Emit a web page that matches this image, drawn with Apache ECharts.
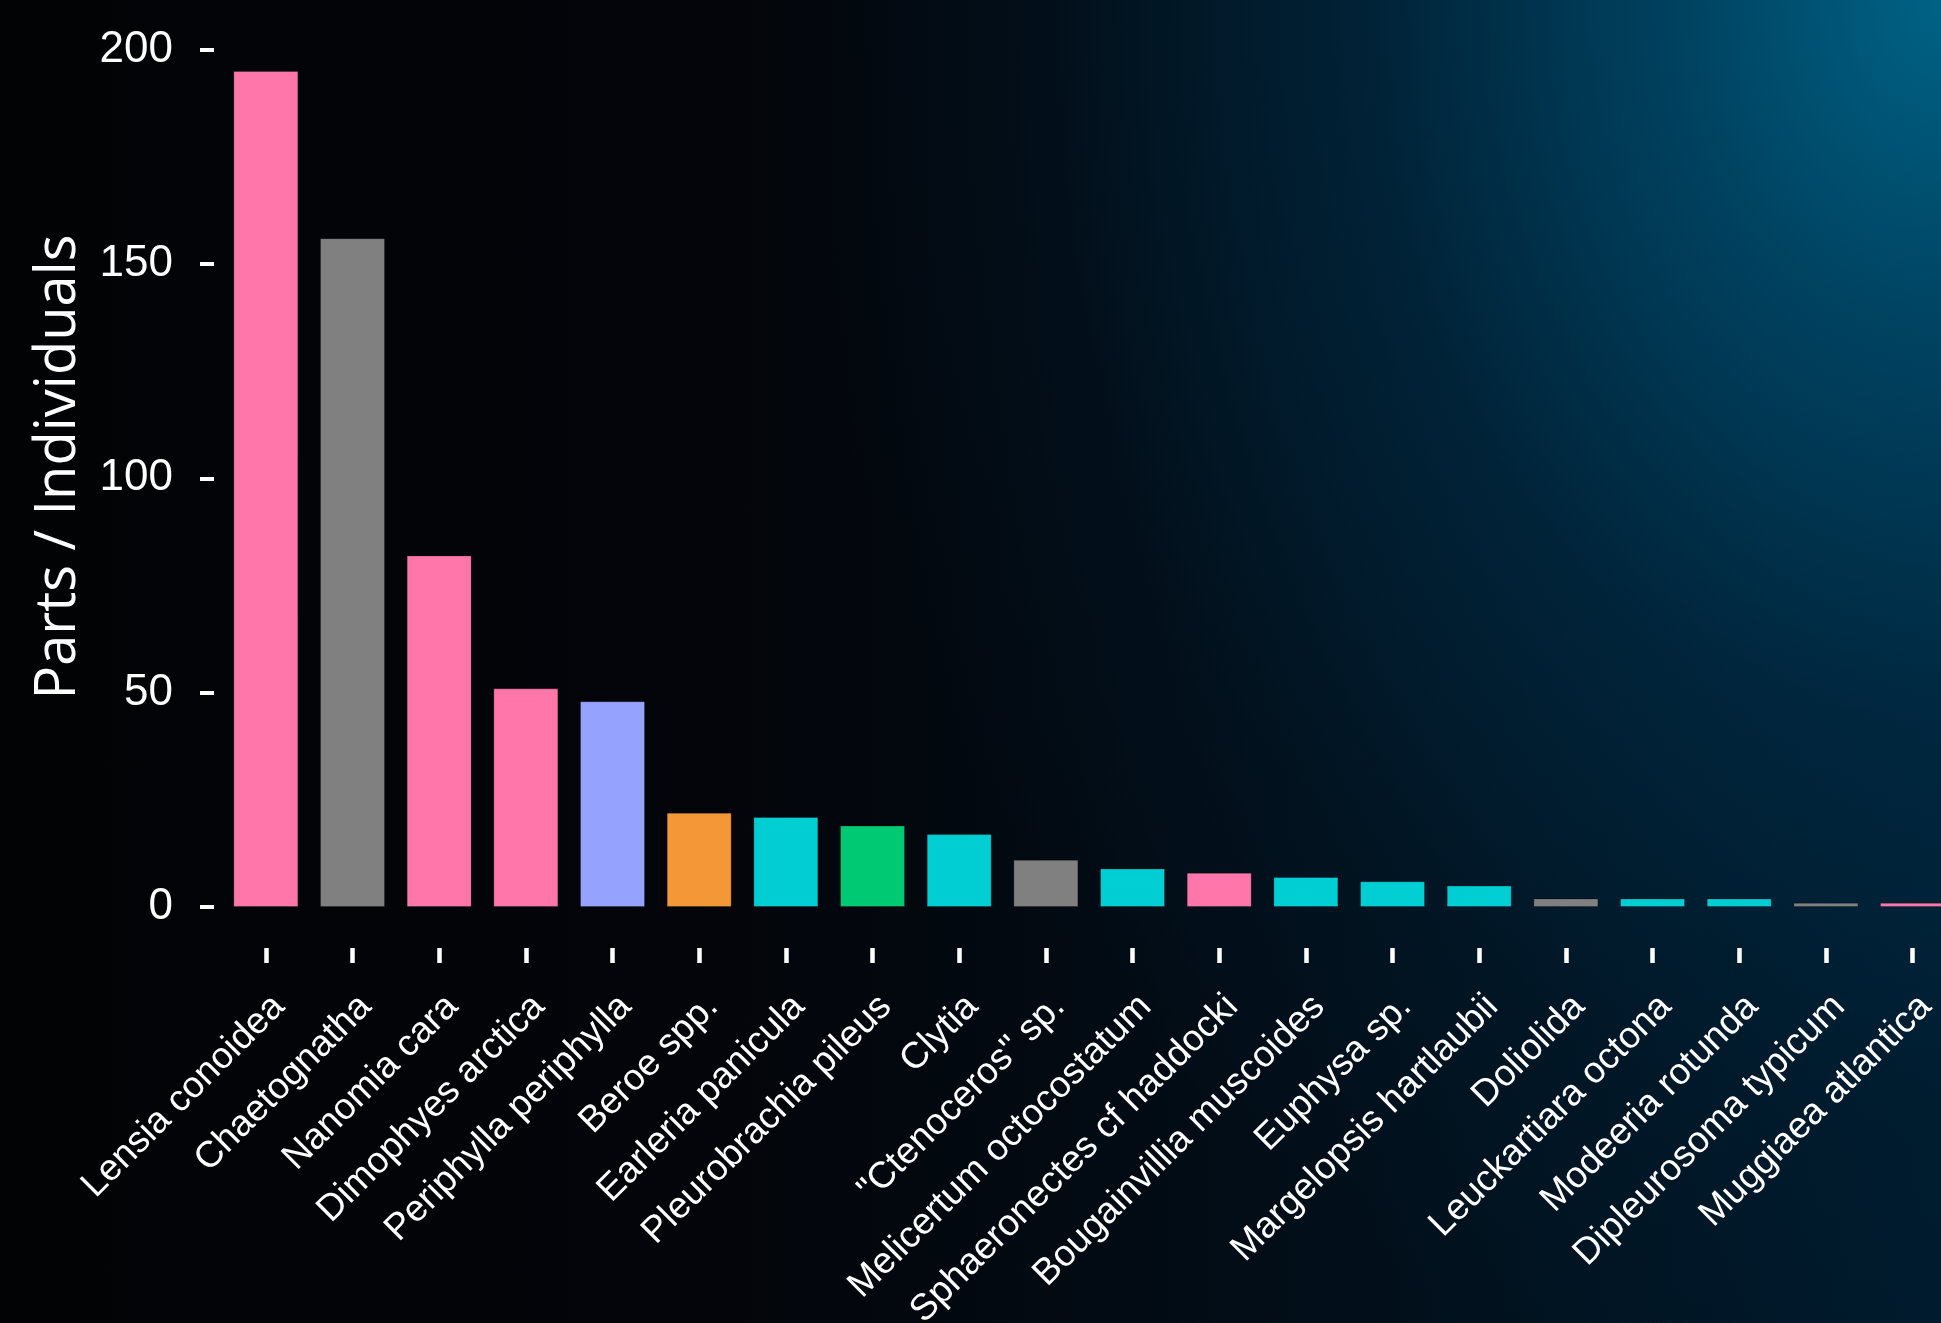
<!DOCTYPE html>
<html>
<head>
<meta charset="utf-8">
<script src="https://cdn.jsdelivr.net/npm/echarts@6/dist/echarts.min.js"></script>
<style>
  html, body { margin: 0; padding: 0; }
  body {
    width: 1941px; height: 1323px; overflow: hidden;
    background:
      radial-gradient(ellipse 1150px 1450px at 100% 0%, rgba(0,102,138,0.95) 0%, rgba(0,78,112,0.8) 22%, rgba(0,52,82,0.5) 50%, rgba(0,38,62,0.18) 78%, rgba(0,30,50,0) 100%),
      linear-gradient(to right, #020305 0%, #03050a 38%, #020d17 65%, #001a2c 100%);
  }
  #chart { width: 1941px; height: 1323px; }
</style>
</head>
<body>
<div id="chart"></div>
<script>
// ---- data ----
const categories = [
  'Lensia conoidea', 'Chaetognatha', 'Nanomia cara', 'Dimophyes arctica',
  'Periphylla periphylla', 'Beroe spp.', 'Earleria panicula', 'Pleurobrachia pileus',
  'Clytia', '"Ctenoceros" sp.', 'Melicertum octocostatum', 'Sphaeronectes cf haddocki',
  'Bougainvillia muscoides', 'Euphysa sp.', 'Margelopsis hartlaubii', 'Doliolida',
  'Leuckartiara octona', 'Modeeria rotunda', 'Dipleurosoma typicum', 'Muggiaea atlantica'
];
const counts = [195, 156, 82, 51, 48, 22, 21, 19, 17, 11, 9, 8, 7, 6, 5, 2, 2, 2, 1, 1];
const groups = [
  'siphonophore', 'other', 'siphonophore', 'siphonophore',
  'scyphozoan', 'beroid', 'hydromedusa', 'cydippid',
  'hydromedusa', 'other', 'hydromedusa', 'siphonophore',
  'hydromedusa', 'hydromedusa', 'hydromedusa', 'other',
  'hydromedusa', 'hydromedusa', 'other', 'siphonophore'
];
const yTicks = [0, 50, 100, 150, 200];
const yTitle = 'Parts / Individuals';

// ---- styles ----
const groupColors = {
  siphonophore: '#ff77aa',
  other: '#808080',
  scyphozoan: '#95a3ff',
  beroid: '#f49736',
  hydromedusa: '#00ced2',
  cydippid: '#00c974'
};

const chart = echarts.init(document.getElementById('chart'), null, { renderer: 'canvas' });
const font = '"Liberation Sans", Arial, sans-serif';

chart.setOption({
  backgroundColor: 'transparent',
  animation: false,
  grid: { left: 222.5, width: 1733.4, top: 49.5, bottom: 416, containLabel: false, outerBoundsMode: 'none' },
  xAxis: {
    type: 'category',
    data: categories,
    offset: 41,
    axisLine: { show: false, onZero: false },
    axisTick: { show: true, alignWithLabel: true, length: 15, lineStyle: { color: '#ffffff', width: 4.5 } },
    axisLabel: {
      interval: 0, rotate: 45, color: '#ffffff', fontSize: 37, fontFamily: font,
      margin: 40, align: 'right', verticalAlign: 'top', hideOverlap: false
    },
    splitLine: { show: false }
  },
  yAxis: {
    type: 'value',
    min: yTicks[0], max: yTicks[yTicks.length - 1], interval: yTicks[1] - yTicks[0],
    offset: 8.5,
    axisLine: { show: false },
    axisTick: { show: true, length: 14, lineStyle: { color: '#ffffff', width: 4 } },
    axisLabel: { color: '#ffffff', fontSize: 44, fontFamily: font, margin: 41 },
    splitLine: { show: false }
  },
  graphic: [{
    type: 'text',
    x: 59, y: 467,
    rotation: Math.PI / 2,
    style: {
      text: yTitle,
      fill: '#ffffff',
      fontSize: 56,
      fontFamily: '"Open Sans", "Noto Sans", sans-serif',
      align: 'center',
      verticalAlign: 'middle'
    }
  }],
  series: [{
    type: 'bar',
    barCategoryGap: '25%',
    data: counts.map((v, i) => ({
      value: v,
      itemStyle: { color: groupColors[groups[i]], borderColor: 'rgba(0,0,0,0.25)', borderWidth: 1 }
    }))
  }]
});
</script>
</body>
</html>
